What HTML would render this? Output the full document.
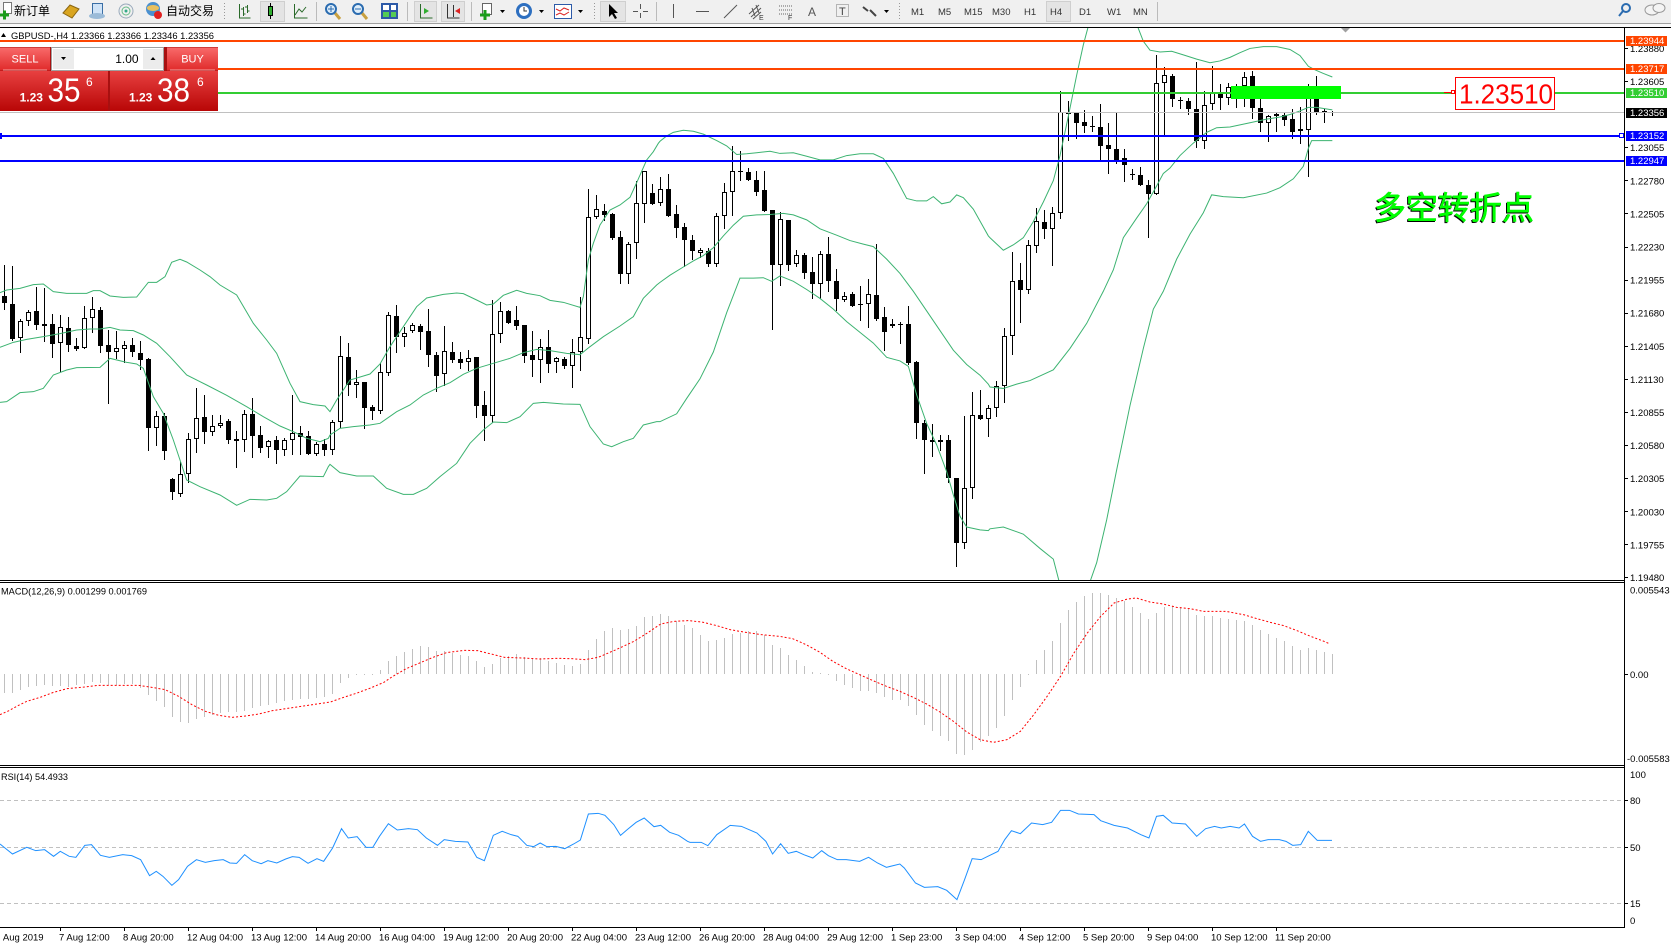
<!DOCTYPE html>
<html><head><meta charset="utf-8">
<style>
html,body{margin:0;padding:0;background:#fff;overflow:hidden;}
svg{display:block;}
text{font-family:"Liberation Sans","Noto Sans CJK SC",sans-serif;}
.ax{font-size:9.5px;fill:#000;}
.tf{font-size:9.5px;fill:#333;}
</style></head>
<body>
<svg id="s" width="1671" height="948" viewBox="0 0 1671 948" xmlns="http://www.w3.org/2000/svg">
<defs>
<linearGradient id="gBtn" x1="0" y1="0" x2="0" y2="1"><stop offset="0" stop-color="#f86a6a"/><stop offset="1" stop-color="#e02a2a"/></linearGradient>
<linearGradient id="gPr" x1="0" y1="0" x2="0" y2="1"><stop offset="0" stop-color="#e84040"/><stop offset="1" stop-color="#b80606"/></linearGradient>
<clipPath id="cm"><rect x="0" y="28" width="1624" height="552"/></clipPath>
<clipPath id="cmacd"><rect x="0" y="583" width="1624" height="182"/></clipPath>
<clipPath id="cfirst"><rect x="3" y="928" width="60" height="20"/></clipPath>
</defs>

<!-- toolbar -->
<rect x="0" y="0" width="1671" height="23" fill="#f0f0f0"/>
<rect x="0" y="23" width="1671" height="1" fill="#a0a0a0"/>
<rect x="0" y="24" width="1671" height="3" fill="#fafafa"/>
<rect x="0" y="28" width="1671" height="920" fill="#fff"/>
<rect x="0" y="27" width="1671" height="1" fill="#000"/>

<rect x="3.5" y="2.5" width="8" height="11" fill="#fff" stroke="#777"/>
<path d="M0 15h9M4.5 10.5v9" stroke="#1a9c1a" stroke-width="3"/>
<text x="14" y="15" font-size="12" fill="#000">新订单</text>
<polygon points="63,13 70,5 79,9 72,18" fill="#d9a520" stroke="#8a6510"/>
<rect x="92.5" y="3.5" width="10" height="11" fill="#cfe3f7" stroke="#3a6ea5"/>
<ellipse cx="97" cy="16" rx="8" ry="3" fill="#9bbbd8"/>
<circle cx="126" cy="11" r="7" fill="none" stroke="#9ab"/>
<circle cx="126" cy="11" r="4" fill="none" stroke="#6b8"/>
<circle cx="126" cy="11" r="1.5" fill="#3a8"/>
<circle cx="153" cy="9" r="7" fill="#4a90d0"/>
<ellipse cx="153" cy="8" rx="6" ry="3" fill="#e8c060"/>
<circle cx="158" cy="15" r="4" fill="#e02020"/>
<text x="166" y="15" font-size="12" fill="#000">自动交易</text>
<line x1="224.5" y1="3" x2="224.5" y2="20" stroke="#999" stroke-dasharray="1 2"/>
<path d="M239.5 4v14h11M243.5 7v9M241 9h2.5M243.5 14h2M247.5 5v8M245 7h2.5M247.5 11h2" stroke="#2a6a2a" fill="none"/>
<rect x="260.5" y="1.5" width="24" height="20" fill="#e4e4e4" stroke="#cfcfcf"/>
<line x1="270.5" y1="3" x2="270.5" y2="19" stroke="#000"/>
<rect x="268.5" y="6.5" width="4" height="9" fill="#2fae2f" stroke="#000"/>
<path d="M294.5 4v14h13M295 15l4-6 3 3 4-5" stroke="#2a6a2a" fill="none"/>
<line x1="316.5" y1="2" x2="316.5" y2="21" stroke="#bbb"/>
<line x1="335" y1="13" x2="340" y2="19" stroke="#c8a040" stroke-width="3"/>
<circle cx="331" cy="9" r="5" fill="#dfeefa" stroke="#2b6cb0" stroke-width="2"/>
<path d="M328 9h6M331 6v6" stroke="#2b6cb0"/>
<line x1="362" y1="13" x2="367" y2="19" stroke="#c8a040" stroke-width="3"/>
<circle cx="358" cy="9" r="5" fill="#dfeefa" stroke="#2b6cb0" stroke-width="2"/>
<path d="M355 9h6" stroke="#2b6cb0"/>
<rect x="381" y="3" width="17" height="16" fill="#2d5aa8"/>
<rect x="383" y="5" width="6" height="5" fill="#fff"/><rect x="391" y="5" width="5" height="5" fill="#fff"/>
<rect x="383" y="12" width="6" height="5" fill="#5c5"/><rect x="391" y="12" width="5" height="5" fill="#5c5"/>
<line x1="407.5" y1="2" x2="407.5" y2="21" stroke="#bbb"/>
<rect x="414.5" y="1.5" width="22" height="20" fill="#e4e4e4" stroke="#cfcfcf"/>
<path d="M420.5 4v14h12" stroke="#2a6a2a" fill="none"/>
<polygon points="424,8 429,11 424,14" fill="#2fae2f"/>
<rect x="441.5" y="1.5" width="23" height="20" fill="#e4e4e4" stroke="#cfcfcf"/>
<path d="M447.5 4v14h12M453.5 5v12" stroke="#333" fill="none"/>
<polygon points="455,11 460,8 460,14" fill="#d22"/>
<line x1="471.5" y1="2" x2="471.5" y2="21" stroke="#bbb"/>
<rect x="482.5" y="3.5" width="9" height="11" fill="#fff" stroke="#666"/>
<path d="M480 15h10M485 10v10" stroke="#1a9c1a" stroke-width="3"/>
<polygon points="500,10 505,10 502.5,13" fill="#000"/>
<circle cx="524" cy="11" r="8" fill="#2d6fc0"/>
<circle cx="524" cy="11" r="5" fill="#fff"/>
<path d="M524 7v4h3" stroke="#333" fill="none"/>
<polygon points="539,10 544,10 541.5,13" fill="#000"/>
<rect x="554.5" y="4.5" width="17" height="14" fill="#fff" stroke="#2d5aa8"/>
<path d="M556 9l4 2 4-3 5 2M556 15l4-2 4 2 5-3" stroke="#d22" fill="none"/>
<polygon points="578,10 583,10 580.5,13" fill="#000"/>
<line x1="594.5" y1="3" x2="594.5" y2="20" stroke="#999" stroke-dasharray="1 2"/>
<rect x="600.5" y="1.5" width="25" height="20" fill="#e4e4e4" stroke="#cfcfcf"/>
<polygon points="609,4 609,17 612,14 615,19 617,18 614,13 618,13" fill="#000"/>
<path d="M640.5 4v5M640.5 13v5M633 11.5h5M643 11.5h5" stroke="#555"/>
<line x1="656.5" y1="2" x2="656.5" y2="21" stroke="#bbb"/>
<line x1="673.5" y1="4" x2="673.5" y2="18" stroke="#555"/>
<line x1="696" y1="11.5" x2="709" y2="11.5" stroke="#555"/>
<line x1="724" y1="18" x2="737" y2="5" stroke="#555"/>
<path d="M749 14l10-9M751 17l10-9M753 19l8-7M752 8l3 8M756 5l3 8" stroke="#555" fill="none"/>
<text x="759" y="20" font-size="7" fill="#333">E</text>
<path d="M779 6h13M779 10h13M779 14h13" stroke="#666" stroke-dasharray="1 1"/>
<text x="788" y="20" font-size="7" fill="#333">F</text>
<text x="808" y="16" font-size="12" fill="#555">A</text>
<rect x="836.5" y="4.5" width="12" height="12" fill="none" stroke="#777" stroke-dasharray="1 1"/>
<text x="839" y="15" font-size="11" fill="#444">T</text>
<path d="M863 7l5 4M870 10l6 6" stroke="#444" stroke-width="2"/>
<polygon points="884,10 889,10 886.5,13" fill="#000"/>
<line x1="899.5" y1="3" x2="899.5" y2="20" stroke="#999" stroke-dasharray="1 2"/>
<text class="tf" x="911" y="15">M1</text>
<text class="tf" x="938" y="15">M5</text>
<text class="tf" x="964" y="15">M15</text>
<text class="tf" x="992" y="15">M30</text>
<text class="tf" x="1024" y="15">H1</text>
<rect x="1046.5" y="1.5" width="24" height="20" fill="#e4e4e4" stroke="#cfcfcf"/>
<text class="tf" x="1050" y="15">H4</text>
<text class="tf" x="1079" y="15">D1</text>
<text class="tf" x="1107" y="15">W1</text>
<text class="tf" x="1133" y="15">MN</text>
<line x1="1157.5" y1="2" x2="1157.5" y2="21" stroke="#bbb"/>
<circle cx="1626" cy="8" r="4" fill="none" stroke="#2b6cb0" stroke-width="2"/>
<line x1="1623" y1="11" x2="1619" y2="16" stroke="#2b6cb0" stroke-width="2"/>
<ellipse cx="1652" cy="10" rx="7" ry="5" fill="#f4f4f4" stroke="#999"/>
<ellipse cx="1659" cy="8" rx="6" ry="4.5" fill="#f4f4f4" stroke="#999"/>

<!-- chart shift marker -->
<polygon points="1341,28 1350,28 1345.5,32.5" fill="#a0a0a0"/>

<!-- main chart -->
<g clip-path="url(#cm)">
<g id="candles"></g>
<g id="bands" fill="none" stroke="#3cb371" stroke-width="1"></g>
</g>

<!-- objects -->
<rect x="0" y="40" width="1624" height="2" fill="#ff4500"/>
<rect x="0" y="68" width="1624" height="2" fill="#ff4500"/>
<rect x="0" y="92" width="1624" height="2" fill="#32cd32"/>
<rect x="0" y="112" width="1624" height="1" fill="#c0c0c0"/>
<rect x="0" y="135" width="1624" height="2" fill="#0000ff"/>
<rect x="0" y="160" width="1624" height="2" fill="#0000ff"/>
<rect x="0" y="133" width="2" height="6" fill="#0000ff"/>
<rect x="1619.5" y="133.5" width="4" height="4" fill="#fff" stroke="#0000ff"/>
<rect x="1231" y="86" width="110" height="13" fill="#00ff00"/>
<line x1="1444" y1="92.5" x2="1455" y2="92.5" stroke="#ff0000"/>
<rect x="1451.5" y="90.5" width="3" height="3" fill="#fff" stroke="#ff0000"/>
<rect x="1455.5" y="77.5" width="99" height="32" fill="#fff" stroke="#ff0000"/>
<text x="1459" y="103.3" font-size="28" fill="#ff0000" textLength="94" lengthAdjust="spacingAndGlyphs">1.23510</text>

<!-- title -->
<polygon points="1,37 6,37 3.5,33" fill="#000"/>
<text x="11" y="39" font-size="9.5" fill="#000" textLength="203" lengthAdjust="spacingAndGlyphs">GBPUSD-,H4  1.23366 1.23366 1.23346 1.23356</text>

<!-- trade panel -->
<rect x="0" y="47" width="218" height="64" fill="#a81010"/>
<rect x="0" y="47.5" width="50" height="23" fill="url(#gBtn)"/>
<line x1="3" y1="70" x2="47" y2="70" stroke="#f7a0a0"/>
<text x="25" y="62.5" font-size="11" fill="#fff" text-anchor="middle">SELL</text>
<rect x="51.5" y="47.5" width="112" height="23" fill="#fff" stroke="#a0a0a0"/>
<rect x="53" y="49" width="21" height="20" fill="#ececec"/>
<polygon points="61,57 66,57 63.5,60" fill="#000"/>
<rect x="143" y="49" width="20" height="20" fill="#ececec"/>
<polygon points="150.5,60 155.5,60 153,57" fill="#000"/>
<text x="138.6" y="63" font-size="12" fill="#000" text-anchor="end">1.00</text>
<rect x="167" y="47.5" width="51" height="23" fill="url(#gBtn)"/>
<line x1="170" y1="70" x2="215" y2="70" stroke="#f7a0a0"/>
<text x="192.5" y="62.5" font-size="11" fill="#fff" text-anchor="middle">BUY</text>
<rect x="0" y="71" width="108" height="40" fill="url(#gPr)"/>
<rect x="110" y="71" width="108" height="40" fill="url(#gPr)"/>
<text x="19.6" y="101.7" font-size="12" font-weight="bold" fill="#fff">1.23</text>
<text x="47.5" y="101.7" font-size="33" fill="#fff" textLength="33" lengthAdjust="spacingAndGlyphs">35</text>
<text x="86" y="86" font-size="12" fill="#fff">6</text>
<text x="129" y="101.7" font-size="12" font-weight="bold" fill="#fff">1.23</text>
<text x="157" y="101.7" font-size="33" fill="#fff" textLength="33" lengthAdjust="spacingAndGlyphs">38</text>
<text x="197" y="86" font-size="12" fill="#fff">6</text>

<!-- annotation -->
<text x="1373" y="220" font-size="32" fill="#000" stroke="#000" stroke-width="0.6" font-family="'Noto Sans CJK SC',sans-serif">多空转折点</text>
<text x="1374" y="219" font-size="32" fill="#00ff00" stroke="#00ff00" stroke-width="0.6" font-family="'Noto Sans CJK SC',sans-serif">多空转折点</text>

<!-- panel borders -->
<rect x="0" y="580" width="1624" height="1" fill="#000"/>
<rect x="0" y="582" width="1624" height="1" fill="#000"/>
<rect x="0" y="765" width="1624" height="1" fill="#000"/>
<rect x="0" y="767" width="1624" height="1" fill="#000"/>
<rect x="0" y="927" width="1624" height="1" fill="#000"/>
<rect x="1624" y="27" width="1" height="901" fill="#000"/>

<!-- MACD -->
<g clip-path="url(#cmacd)">
<g id="hist"></g>
<polyline id="sig" fill="none" stroke="#ff0000" stroke-width="1" stroke-dasharray="2 2"/>
</g>
<text x="1" y="594.5" font-size="9.5" fill="#000" textLength="146" lengthAdjust="spacingAndGlyphs">MACD(12,26,9) 0.001299 0.001769</text>

<!-- RSI -->
<line x1="0" y1="800.5" x2="1624" y2="800.5" stroke="#c0c0c0" stroke-dasharray="4 3"/>
<line x1="0" y1="847.5" x2="1624" y2="847.5" stroke="#c0c0c0" stroke-dasharray="4 3"/>
<line x1="0" y1="903.5" x2="1624" y2="903.5" stroke="#c0c0c0" stroke-dasharray="4 3"/>
<polyline id="rsi" fill="none" stroke="#1e90ff" stroke-width="1"/>
<text x="1" y="780" font-size="9.5" fill="#000" textLength="67" lengthAdjust="spacingAndGlyphs">RSI(14) 54.4933</text>

<!-- right axis ticks -->
<g stroke="#000">
<line x1="1624" y1="48.5" x2="1628" y2="48.5"/><line x1="1624" y1="81.5" x2="1628" y2="81.5"/>
<line x1="1624" y1="147.5" x2="1628" y2="147.5"/><line x1="1624" y1="180.5" x2="1628" y2="180.5"/>
<line x1="1624" y1="213.5" x2="1628" y2="213.5"/><line x1="1624" y1="247.5" x2="1628" y2="247.5"/>
<line x1="1624" y1="280.5" x2="1628" y2="280.5"/><line x1="1624" y1="313.5" x2="1628" y2="313.5"/>
<line x1="1624" y1="346.5" x2="1628" y2="346.5"/><line x1="1624" y1="379.5" x2="1628" y2="379.5"/>
<line x1="1624" y1="412.5" x2="1628" y2="412.5"/><line x1="1624" y1="445.5" x2="1628" y2="445.5"/>
<line x1="1624" y1="478.5" x2="1628" y2="478.5"/><line x1="1624" y1="511.5" x2="1628" y2="511.5"/>
<line x1="1624" y1="544.5" x2="1628" y2="544.5"/><line x1="1624" y1="577.5" x2="1628" y2="577.5"/>
<line x1="1624" y1="674.5" x2="1628" y2="674.5"/>
<line x1="1624" y1="800.5" x2="1628" y2="800.5"/><line x1="1624" y1="847.5" x2="1628" y2="847.5"/>
<line x1="1624" y1="903.5" x2="1628" y2="903.5"/>
</g>
<g class="ax">
<text class="ax" x="1630" y="52">1.23880</text>
<text class="ax" x="1630" y="85">1.23605</text>
<text class="ax" x="1630" y="151">1.23055</text>
<text class="ax" x="1630" y="184.3">1.22780</text>
<text class="ax" x="1630" y="217.4">1.22505</text>
<text class="ax" x="1630" y="250.5">1.22230</text>
<text class="ax" x="1630" y="283.6">1.21955</text>
<text class="ax" x="1630" y="316.7">1.21680</text>
<text class="ax" x="1630" y="349.8">1.21405</text>
<text class="ax" x="1630" y="382.9">1.21130</text>
<text class="ax" x="1630" y="416">1.20855</text>
<text class="ax" x="1630" y="449.1">1.20580</text>
<text class="ax" x="1630" y="482.2">1.20305</text>
<text class="ax" x="1630" y="515.3">1.20030</text>
<text class="ax" x="1630" y="548.4">1.19755</text>
<text class="ax" x="1630" y="581">1.19480</text>
<text class="ax" x="1630" y="593.5">0.005543</text>
<text class="ax" x="1630" y="678">0.00</text>
<text class="ax" x="1627" y="761.8">-0.005583</text>
<text class="ax" x="1630" y="777.8">100</text>
<text class="ax" x="1630" y="803.8">80</text>
<text class="ax" x="1630" y="850.8">50</text>
<text class="ax" x="1630" y="907.2">15</text>
<text class="ax" x="1630" y="923.8">0</text>
</g>
<rect x="1626" y="36" width="41" height="10" fill="#ff4500"/>
<text x="1630" y="44.2" font-size="9.5" fill="#fff">1.23944</text>
<rect x="1626" y="64" width="41" height="10" fill="#ff4500"/>
<text x="1630" y="72.2" font-size="9.5" fill="#fff">1.23717</text>
<rect x="1626" y="88" width="41" height="10" fill="#32cd32"/>
<text x="1630" y="96.2" font-size="9.5" fill="#fff">1.23510</text>
<rect x="1626" y="108" width="41" height="10" fill="#000"/>
<text x="1630" y="116.2" font-size="9.5" fill="#fff">1.23356</text>
<rect x="1626" y="131" width="41" height="10" fill="#0000ff"/>
<text x="1630" y="139.2" font-size="9.5" fill="#fff">1.23152</text>
<rect x="1626" y="156" width="41" height="10" fill="#0000ff"/>
<text x="1630" y="164.2" font-size="9.5" fill="#fff">1.22947</text>

<!-- bottom axis -->
<g id="bticks" stroke="#000"></g>
<g clip-path="url(#cfirst)"><text class="ax" x="-4.5" y="940.5">6 Aug 2019</text></g>
<g class="ax">
<text class="ax" x="59" y="940.5">7 Aug 12:00</text>
<text class="ax" x="123" y="940.5">8 Aug 20:00</text>
<text class="ax" x="187" y="940.5">12 Aug 04:00</text>
<text class="ax" x="251" y="940.5">13 Aug 12:00</text>
<text class="ax" x="315" y="940.5">14 Aug 20:00</text>
<text class="ax" x="379" y="940.5">16 Aug 04:00</text>
<text class="ax" x="443" y="940.5">19 Aug 12:00</text>
<text class="ax" x="507" y="940.5">20 Aug 20:00</text>
<text class="ax" x="571" y="940.5">22 Aug 04:00</text>
<text class="ax" x="635" y="940.5">23 Aug 12:00</text>
<text class="ax" x="699" y="940.5">26 Aug 20:00</text>
<text class="ax" x="763" y="940.5">28 Aug 04:00</text>
<text class="ax" x="827" y="940.5">29 Aug 12:00</text>
<text class="ax" x="891" y="940.5">1 Sep 23:00</text>
<text class="ax" x="955" y="940.5">3 Sep 04:00</text>
<text class="ax" x="1019" y="940.5">4 Sep 12:00</text>
<text class="ax" x="1083" y="940.5">5 Sep 20:00</text>
<text class="ax" x="1147" y="940.5">9 Sep 04:00</text>
<text class="ax" x="1211" y="940.5">10 Sep 12:00</text>
<text class="ax" x="1275" y="940.5">11 Sep 20:00</text>
</g>
</svg>
<script>
(function(){
var NS="http://www.w3.org/2000/svg";
function el(t,a,p){var e=document.createElementNS(NS,t);for(var k in a)e.setAttribute(k,a[k]);p.appendChild(e);return e;}
function P(arr,ox,sx,oy,sy,maxd){var o=[];for(var i=0;i<arr.length;i+=2){if(maxd!=null&&arr[i]>=maxd)continue;o.push((ox+arr[i]/sx).toFixed(2)+","+(oy+arr[i+1]/sy).toFixed(2));}return o;}
var cg=document.getElementById("candles"),bg=document.getElementById("bands");
var segs=[
{i0:0,oy:110,sy:3,d:[[0,558,580,465,598],[0,582,687,468,690],[1,633,685,628,727],[1,606,633,600,645],[0,603,646,532,658],[0,643,647,535,693],[0,643,703,612,742],[1,652,700,616,782],[0,655,706,622,724],[0,709,716,683,720],[1,625,715,588,715],[1,598,625,562,665],[0,601,707,592,725],[0,706,727,661,878],[1,715,727,663,745],[1,706,718,694,755],[0,706,727,685,737],[0,730,749,694,778],[0,747,953,745,1019],[1,919,955,904,1004],[0,919,1024,909,1046],[0,1107,1147,1104,1166],[1,1093,1151,1056,1158],[1,988,1093,969,1117],[1,925,988,834,1025],[0,922,967,856,998],[1,949,967,915,976],[1,940,949,914,950],[0,934,989,927,1000],[0,988,992,964,1070],[1,913,991,901,1022],[0,912,977,865,1042],[0,976,1013,948,1027],[1,994,1012,990,1040],[0,991,1019,979,1058],[1,991,1019,985,1034],[1,970,991,855,1031],[0,970,980,947,1031],[0,979,1031,963,1031],[1,1002,1033,997,1036],[0,1002,1021,987,1036],[1,937,1021,929,1033]]},
{i0:42,oy:110,sy:3,d:[[1,739,937,678,952],[0,742,825,698,855],[1,817,824,780,860],[0,816,893,816,953],[0,890,902,884,926],[1,787,902,760,910],[1,616,789,606,794],[0,619,680,585,725],[1,670,680,650,707],[1,646,662,640,665],[0,648,665,642,717],[0,662,734,597,768],[0,735,798,726,842],[1,724,793,648,824],[0,726,749,696,755],[0,747,758,726,774],[1,745,757,720,780],[0,741,887,740,920],[0,886,919,843,989],[1,673,919,570,937],[1,604,673,577,697],[0,604,638,600,640],[0,631,648,588,658],[0,646,737,646,755],[0,735,749,662,797],[1,712,749,687,815],[0,712,761,660,785],[1,745,757,740,785],[0,747,767,740,775],[1,727,767,687,830],[1,682,727,562,780],[1,322,686,237,700],[1,298,320,255,323],[0,304,314,283,330],[0,312,384,310,388],[0,381,493,362,518],[1,402,493,395,518],[1,280,400,213,443],[1,183,283,183,335],[0,250,281,222,283],[1,238,280,200,285],[0,238,317,192,317]]},
{i0:84,oy:27,sy:2.8,d:[[0,524,562,498,588],[0,561,595,548,668],[0,595,628,582,650],[1,625,632,618,645],[0,628,664,618,668],[1,530,663,522,668],[1,463,530,438,562],[1,404,463,333,525],[0,403,406,347,427],[0,407,427,395,427],[0,427,462,403,470],[0,457,515,403,515],[0,511,665,511,845],[1,538,665,518,722],[0,540,665,540,680],[1,638,663,624,668],[0,637,688,632,703],[0,687,720,645,758],[1,636,720,628,760],[0,636,710,588,740],[0,711,762,678,792],[1,754,764,743,768],[0,747,780,743,782],[0,776,779,726,820],[1,748,776,706,840],[0,750,818,607,820],[0,813,853,785,903],[0,832,838,818,840],[0,832,835,826,885],[0,832,941,780,943],[0,938,1108,936,1150],[0,1108,1155,1100,1250],[0,1155,1163,1112,1200],[1,1155,1163,1142,1185],[0,1155,1262,1142,1275],[0,1262,1446,1262,1510],[1,1292,1446,1090,1460],[1,1085,1292,1022,1318],[0,1085,1098,1015,1098],[1,1066,1098,1058,1145],[1,1006,1068,992,1090]]},
{i0:125,oy:27,sy:2.8,d:[[1,865,1005,843,1050],[1,712,865,630,915],[0,708,735,662,825],[1,610,735,597,745],[1,543,613,508,630],[0,545,565,512,590],[1,521,565,505,665],[1,238,522,180,535],[0,238,243,208,315],[0,240,268,240,312],[0,265,278,232,295],[0,278,281,250,290],[0,280,332,215,375],[0,330,342,270,410],[0,342,372,240,380],[0,367,385,342,430],[0,412,415,398,425],[0,415,443,393,443],[0,443,468,428,587],[1,157,468,78,468],[1,135,157,113,305],[0,137,202,132,220],[0,203,208,196,228],[0,208,230,198,243],[0,230,318,97,335],[1,218,318,178,338],[1,182,216,110,230],[0,182,200,160,230],[1,168,200,157,215],[0,195,200,160,225],[1,140,165,125,220],[0,138,228,122,255],[0,228,268,200,290],[1,250,268,245,320],[0,244,250,238,290],[0,245,260,240,275],[0,258,293,230,312],[1,285,292,225,325],[1,195,287,160,418],[0,200,237,137,243],[0,235,237,230,265],[0,237,240,234,245]]}
];
segs.forEach(function(s){s.d.forEach(function(c,k){
 var i=s.i0+k,x=4+8*i;
 var Y=function(v){return Math.round(s.oy+v/s.sy);};
 var bt=Y(c[1]),bb=Y(c[2]),wt=Y(c[3]),wb=Y(c[4]);
 if(wt>bt)wt=bt; if(wb<bb)wb=bb;
 el("rect",{x:x,y:wt,width:1,height:wb-wt+1,fill:"#000"},cg);
 if(bb-bt<2){el("rect",{x:x-2,y:bt,width:5,height:1,fill:"#000"},cg);}
 else if(c[0]){el("rect",{x:x-1.5,y:bt+0.5,width:4,height:bb-bt-1,fill:"#fff",stroke:"#000","stroke-width":1},cg);}
 else{el("rect",{x:x-2,y:bt,width:5,height:bb-bt,fill:"#000"},cg);}
});});
var bs=[
{ox:0,oy:110,sy:3,mx:990,
u:[0,548,20,540,60,535,100,524,130,522,160,545,200,550,260,550,280,542,300,542,330,558,370,562,410,561,445,517,470,517,495,500,515,457,540,448,560,456,600,480,630,500,660,525,710,555,760,640,800,690,830,730,870,820,900,875,940,884,975,888,995,903],
m:[0,712,40,697,80,688,130,680,180,671,230,660,270,657,300,657,330,652,360,660,400,662,430,675,470,700,510,740,560,795,620,825,680,856,740,890,790,920,840,948,880,965,920,985,960,995,985,985],
l:[0,877,20,875,60,848,100,845,130,835,160,795,200,780,230,773,300,772,330,745,380,757,410,762,430,775,460,860,490,910,520,990,560,1110,600,1130,660,1155,710,1186,750,1168,800,1170,830,1165,860,1145,900,1098,970,1100,985,1070]},
{ox:330,oy:110,sy:3,mx:990,
u:[0,905,20,870,60,810,120,792,150,762,180,710,220,650,260,590,290,564,340,553,380,549,400,551,440,570,470,585,490,582,520,556,560,541,590,550,630,557,660,571,700,577,750,592,760,560,775,450,790,400,810,345,840,300,870,285,900,262,920,218,950,150,970,125,985,100],
m:[0,975,30,955,70,950,120,945,150,940,200,905,240,885,280,855,320,835,360,818,400,793,440,775,490,760,540,745,580,728,620,718,660,722,710,730,750,734,780,710,820,680,870,648,910,620,940,565,980,525],
l:[0,1063,30,1088,80,1098,130,1098,170,1135,220,1153,250,1153,290,1135,330,1100,380,1060,420,1000,460,960,490,936,530,938,570,920,610,880,640,877,700,882,750,883,780,950,820,1002,845,1010,880,995,910,985,940,945,980,935]},
{ox:660,oy:27,sy:2.8,mx:990,
u:[0,320,20,305,40,295,70,289,100,292,130,300,170,318,200,333,230,357,260,355,290,352,330,348,360,354,400,352,440,362,480,372,520,372,560,360,600,355,640,355,670,368,700,410,740,480,770,487,800,487,820,475,845,495,870,490,890,470,910,478,940,510,970,560,985,585],
m:[0,715,30,695,70,672,100,655,130,640,160,618,190,585,220,555,250,530,290,526,330,525,370,522,400,526,440,540,480,565,530,583,570,598,610,608,640,615,680,650,720,690,760,740,800,795,840,850,880,905,920,945,960,975,985,1000],
l:[0,1105,50,1083,80,1040,120,985,160,910,200,800,240,703,280,703,310,702,335,712,360,697,400,712,440,735,480,760,520,790,560,825,600,855,640,885,680,925,720,935,745,950,770,1030,800,1110,830,1170,860,1245,880,1310,900,1370,920,1400,960,1408,985,1410]},
{ox:990,oy:27,sy:2.8,mx:null,
u:[0,590,40,625,70,610,100,590,130,545,160,490,190,430,210,360,235,250,260,135,280,50,300,-20,435,-20,460,40,480,65,510,70,545,68,580,78,620,90,660,100,690,95,720,85,750,72,780,60,820,55,860,55,900,63,930,80,955,110,975,120,1000,130,1027,140],
m:[0,1008,40,1012,80,1000,120,990,190,960,240,900,290,830,340,740,370,680,400,590,440,535,470,495,500,445,520,410,540,395,570,360,610,325,650,295,680,282,720,280,780,268,830,258,870,252,900,245,930,235,955,225,980,225,1027,232],
l:[0,1405,40,1400,100,1420,150,1460,190,1490,215,1580,290,1580,320,1500,350,1380,380,1240,420,1060,460,900,490,790,520,740,560,650,600,580,640,520,665,470,700,475,760,478,830,465,870,450,910,425,940,390,955,340,965,318,1027,318]}
];
["u","m","l"].forEach(function(key){var pts=[];bs.forEach(function(s){pts=pts.concat(P(s[key],s.ox,3,s.oy,s.sy,s.mx));});el("polyline",{points:pts.join(" ")},bg);});
var H=[345,345,335,328,325,320,325,325,328,322,318,312,315,322,320,318,318,330,352,368,388,418,433,435,422,418,410,405,403,402,398,390,385,380,375,370,367,363,362,360,358,348,315,300,290,290,287,275,248,233,222,213,205,207,218,220,225,230,233,250,268,257,240,235,228,238,240,240,250,255,262,263,258,215,182,158,150,155,152,145,118,113,108,113,130,140,150,
170,188,185,180,168,165,160,160,172,200,210,230,245,263,282,285,288,308,320,330,338,340,345,358,365,365,383,412,440,458,473,490,528,532,515,492,475,450,413,365,327,290,245,215,188,135,95,72,55,45,45,50,60,68,88,105,122,105,88,85,88,92,110,113,113,120,122,125,128,142,155,168,180,188,203,215,210,215,222,228];
var hg=document.getElementById("hist");
H.forEach(function(v,i){var x=4+8*i,y=Math.round(578+v/3),y0=674;var t=Math.min(y,y0),h=Math.max(1,Math.abs(y-y0));el("rect",{x:x,y:t,width:1,height:h,fill:"#c0c0c0"},hg);});
var S8=[0,410,20,398,40,383,60,370,90,358,120,343,150,332,190,327,220,322,260,322,310,322,340,328,370,335,400,355,430,380,460,400,490,412,520,418,550,414,580,408,610,398,650,390,690,382,740,372,770,358,800,345,830,330,860,313,880,295,910,272,940,255,970,238,1000,224,1040,217,1070,218,1100,228,1130,238,1170,240,1210,243,1250,241,1280,242,1310,245,1340,238,1380,215,1420,190,1450,165,1480,138,1510,130,1540,128];
var S9=[0,128,30,133,60,143,90,155,120,162,160,170,200,175,230,182,260,200,290,222,320,250,350,272,380,290,410,308,440,325,470,340,500,358,530,378,560,402,590,430,620,462,650,485,680,493,710,485,740,460,770,410,800,355,830,295,860,225,890,165,920,115,950,75,980,63,1000,60,1030,72,1060,78,1090,88,1120,92,1150,100,1200,100,1240,110,1270,122,1300,133,1330,143,1360,158,1390,175,1420,190,1432,197];
document.getElementById("sig").setAttribute("points",P(S8,0,2.24,578,3,1545).concat(P(S9,690,2.24,578,3,null)).join(" "));
var R8=[0,798,28,828,60,808,80,818,100,815,120,835,135,820,155,835,170,838,190,802,205,800,225,832,245,838,275,830,295,833,315,845,335,893,350,880,365,895,385,922,400,905,420,865,440,845,460,853,480,848,500,845,515,855,530,856,548,830,565,848,585,857,600,848,620,855,640,843,655,836,670,838,690,856,710,842,725,850,745,810,765,752,780,780,800,776,820,808,835,808,850,775,870,737,890,756,915,752,935,755,955,780,980,802,995,785,1020,790,1048,792,1068,838,1085,848,1105,772,1125,760,1145,770,1160,775,1180,802,1195,806,1210,795,1225,806,1245,805,1265,812,1285,798,1300,786,1318,708,1340,706,1355,712,1375,740,1390,772,1405,755,1425,733,1443,720,1465,746,1480,742,1500,763,1520,772,1540,790];
var R9=[0,793,25,793,40,803,60,770,90,742,115,745,150,765,170,790,185,828,203,797,220,826,238,820,255,830,275,840,295,818,310,833,330,845,350,845,380,850,400,838,420,855,440,868,470,858,480,870,505,915,525,928,555,926,575,937,598,965,615,905,632,842,652,845,670,833,690,820,705,785,720,758,740,767,765,735,790,740,810,733,830,697,850,697,870,708,905,710,920,728,950,742,980,750,1010,770,1028,780,1045,715,1060,712,1080,735,1110,738,1135,775,1155,752,1175,745,1190,750,1210,745,1230,750,1242,738,1260,775,1278,790,1295,785,1320,785,1335,790,1350,802,1368,800,1385,760,1405,787,1438,787];
document.getElementById("rsi").setAttribute("points",P(R8,0,2.24,578,3,1545).concat(P(R9,690,2.24,578,3,null)).join(" "));
var bt=document.getElementById("bticks");
for(var i=7;i<=159;i+=8){var x=4+8*i+0.5;el("line",{x1:x,y1:928,x2:x,y2:931},bt);}
})();
</script>
</body></html>
